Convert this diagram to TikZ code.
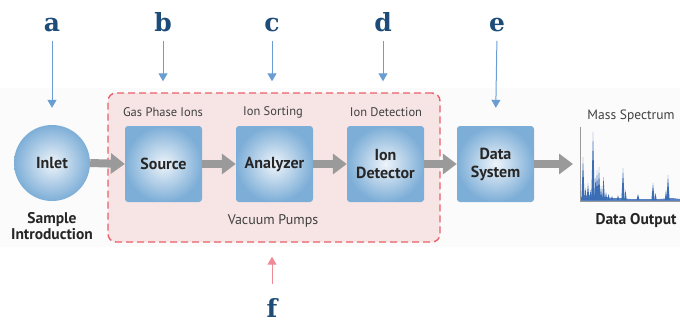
\documentclass[tikz,border=0pt]{standalone}
\usepackage{fontspec}
\setmainfont{PT Sans}
\newfontfamily\letterfont{DejaVu Serif}
\usetikzlibrary{arrows.meta,shapes.geometric}
\definecolor{boxedge}{HTML}{7DAED7}
\definecolor{boxmid}{HTML}{EEF4FA}
\definecolor{flowgray}{HTML}{9A9A9A}
\definecolor{pointer}{HTML}{6A9ED3}
\definecolor{pumppink}{HTML}{F08A96}
\definecolor{dashred}{HTML}{E8606A}
\definecolor{vacfill}{HTML}{F7E5E5}
\definecolor{letterblue}{HTML}{1E4C78}
\definecolor{peakblue}{HTML}{3A6DB5}
\begin{document}
\begin{tikzpicture}[x=1pt,y=-1pt,
  stagebox/.style={rectangle, rounded corners=3pt, minimum width=77pt, minimum height=76pt,
    inner color=boxmid, outer color=boxedge, font=\fontsize{16}{18}\selectfont\bfseries,
    align=center, text=black!85},
  caption/.style={font=\fontsize{12.5}{14}\selectfont, text=black!75},
  bigcaption/.style={font=\fontsize{15.5}{16}\selectfont\bfseries, text=black!85, align=center},
  tag/.style={font=\fontsize{25}{27}\letterfont\bfseries, text=letterblue, anchor=base},
  flow/.style={line width=8pt, draw=flowgray, -{Triangle[width=20pt,length=14pt]}},
  pointerarrow/.style={line width=1pt, draw=pointer, -{Triangle[width=9pt,length=8pt]}},
  pumparrow/.style={line width=1pt, draw=pumppink, -{Triangle[width=9pt,length=8pt]}}]
\useasboundingbox (0,0) rectangle (680,322);
% faint backdrop band
\fill[black!1.5] (0,88) rectangle (680,247);
% vacuum region
\node[draw=dashred, fill=vacfill, dashed, dash pattern=on 7pt off 4pt, line width=1.4pt,
  rounded corners=8pt, minimum width=332pt, minimum height=149pt] (vac) at (274,167.5) {};
% inlet sphere
\node[circle, minimum size=76pt, inner color=boxmid, outer color=boxedge,
  font=\fontsize{16}{18}\selectfont\bfseries, text=black!85] (inlet) at (52,163) {Inlet};
% stages
\node[stagebox] (source) at (163.5,164) {Source};
\node[stagebox] (analyzer) at (274.5,164) {Analyzer};
\node[stagebox] (detector) at (385.5,164) {Ion\\Detector};
\node[stagebox] (datasys) at (495.5,164) {Data\\System};
% captions
\node[caption] (capsrc) at (163,112) {Gas Phase Ions};
\node[caption] (capana) at (273,112) {Ion Sorting};
\node[caption] (capdet) at (386,112) {Ion Detection};
\node[caption, font=\fontsize{14}{15}\selectfont] (pumps) at (273,221) {Vacuum Pumps};
\node[bigcaption] (sample) at (52,226) {Sample\\Introduction};
\node[caption, font=\fontsize{13.5}{15}\selectfont] (msp) at (631,116) {Mass Spectrum};
\node[bigcaption] (output) at (636,221) {Data Output};
% spectrum axes
\coordinate (ax0) at (580,201);
\coordinate (axtop) at (580,127);
\coordinate (axend) at (680,201);
\coordinate (specin) at (573,164);
% spectrum peaks: narrow spikes over a low noise floor
\fill[peakblue!85] (581,201) -- (581,197) -- (584,195) -- (588,196) -- (592,194) -- (596,195)
  -- (600,196) -- (606,197) -- (612,198) -- (620,198) -- (630,199) -- (645,199) -- (660,199)
  -- (672,198) -- (680,199) -- (680,201) -- cycle;
\foreach \px/\py/\w in {583/157/1.6, 585.5/188/1.2, 588/183/1.4, 590.5/190/1.2, 593/132/1.8,
  595.5/178/1.2, 597/170/1.4, 599/167/1.4, 601/186/1.2, 603.5/177/1.4, 606/192/1.2,
  608.5/194/1.2, 612/196/1.2, 618/195/1.2, 623/168/1.6, 625.5/190/1.2, 638/194/1.4,
  653/183/1.6, 655.5/193/1.2, 668/175/1.6, 666/190/1.2}
  \fill[peakblue] (\px-\w,200) -- (\px,\py) -- (\px+\w,200) -- cycle;
\draw[black!40, line width=1pt] (axtop) -- (ax0) -- (axend);
% flow through the instrument
\draw[flow] (inlet.east) -- (source.west);
\draw[flow] (source.east) -- (analyzer.west);
\draw[flow] (analyzer.east) -- (detector.west);
\draw[flow] (detector.east) -- (datasys.west);
\draw[flow] (datasys.east) -- (specin);
% letter tags
\node[tag] (la) at (52,31) {a};
\node[tag] (lb) at (163,31) {b};
\node[tag] (lc) at (272,31) {c};
\node[tag] (ld) at (383,31) {d};
\node[tag] (le) at (497,31) {e};
\node[tag] (lf) at (272,317) {f};
\draw[pointerarrow, shorten <=6pt, shorten >=17pt] (la.south) -- (inlet.north);
\draw[pointerarrow, shorten <=6pt, shorten >=11pt] (lb.south) -- (lb.south |- vac.north);
\draw[pointerarrow, shorten <=6pt, shorten >=11pt] (lc.south) -- (lc.south |- vac.north);
\draw[pointerarrow, shorten <=6pt, shorten >=11pt] (ld.south) -- (ld.south |- vac.north);
\draw[pointerarrow, shorten <=6pt, shorten >=18pt] (le.south) -- (datasys.north);
\draw[pumparrow, shorten <=10pt, shorten >=14pt] (lf.north) -- (lf.north |- vac.south);
\end{tikzpicture}
\end{document}
